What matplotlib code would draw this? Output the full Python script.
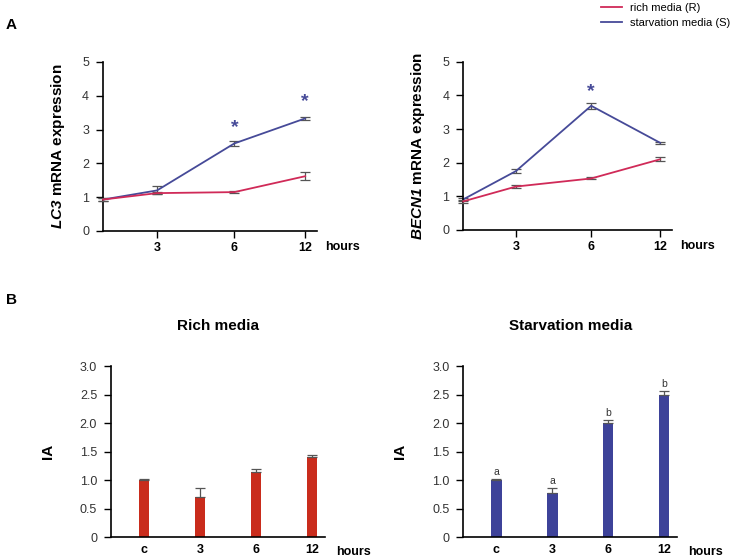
import matplotlib
matplotlib.use('Agg')
import matplotlib.pyplot as plt
from matplotlib.lines import Line2D
import numpy as np

plt.rcParams['font.family'] = ['Liberation Sans', 'DejaVu Sans']
plt.rcParams['mathtext.fontset'] = 'custom'
plt.rcParams['mathtext.rm'] = 'Liberation Sans'
plt.rcParams['mathtext.it'] = 'Liberation Sans:italic'
plt.rcParams['mathtext.bf'] = 'Liberation Sans:bold'
plt.rcParams['mathtext.bfit'] = 'Liberation Sans:italic:bold'

# ---- data ----
# panel A: qPCR time course (hours 0, 3, 6, 12)
time_pos = [0, 1, 2.43, 3.74]
time_labels = ['', '3', '6', '12']

lc3_rich = [0.93, 1.12, 1.15, 1.62]
lc3_rich_err = [0.05, 0.04, 0.04, 0.12]
lc3_starv = [0.93, 1.20, 2.59, 3.33]
lc3_starv_err = [0.05, 0.12, 0.07, 0.04]
lc3_stars = [(2.43, 3.06), (3.74, 3.83)]

becn_rich = [0.85, 1.29, 1.53, 2.10]
becn_rich_err = [0.04, 0.04, 0.03, 0.06]
becn_starv = [0.91, 1.75, 3.69, 2.59]
becn_starv_err = [0.05, 0.05, 0.09, 0.03]
becn_stars = [(2.43, 4.10)]

# panel B: IA bar charts
bar_labels = ['c', '3', '6', '12']
ia_rich = [1.00, 0.71, 1.15, 1.41]
ia_rich_err = [0.02, 0.15, 0.04, 0.03]
ia_starv = [1.00, 0.78, 2.00, 2.50]
ia_starv_err = [0.03, 0.09, 0.05, 0.06]
ia_starv_letters = ['a', 'a', 'b', 'b']

RED = '#d02a58'
BLUE = '#464a98'
BAR_RED = '#c92c1c'
BAR_BLUE = '#3d4299'
ERR = '#555555'

fig = plt.figure(figsize=(7.31, 5.59), dpi=100)


def style_axes(ax, xpad):
    ax.spines['top'].set_visible(False)
    ax.spines['right'].set_visible(False)
    ax.spines['left'].set_linewidth(1.2)
    ax.spines['bottom'].set_linewidth(1.2)
    ax.tick_params(axis='y', direction='out', length=5, width=1.0,
                   labelsize=9, colors='black', labelcolor='#333333', pad=5)
    ax.tick_params(axis='x', direction='out', width=1.0,
                   labelsize=9, pad=xpad)
    for lab in ax.get_xticklabels():
        lab.set_fontweight('bold')


def line_panel(rect, rich, rich_err, starv, starv_err, stars, ylabel):
    ax = fig.add_axes(rect)
    ax.errorbar(time_pos, rich, yerr=rich_err, color=RED, lw=1.3,
                ecolor=ERR, elinewidth=0.9, capsize=3.5, capthick=0.9,
                clip_on=False, zorder=3)
    ax.errorbar(time_pos, starv, yerr=starv_err, color=BLUE, lw=1.3,
                ecolor=ERR, elinewidth=0.9, capsize=3.5, capthick=0.9,
                clip_on=False, zorder=2)
    for x, y in stars:
        ax.text(x, y, '*', color=BLUE, fontsize=14, fontweight='bold',
                ha='center', va='center')
    ax.set_xlim(0, 3.96)
    ax.set_ylim(0, 5)
    ax.set_yticks([0, 1, 2, 3, 4, 5])
    ax.set_xticks(time_pos[1:])
    ax.set_xticklabels(time_labels[1:])
    ax.set_ylabel(ylabel, fontsize=11, fontweight='bold', labelpad=11)
    ax.tick_params(axis='x', length=5)
    style_axes(ax, 3)
    ax.text(1.04, -0.095, 'hours', transform=ax.transAxes, fontsize=9,
            fontweight='bold', ha='left', va='center')
    return ax


def bar_panel(rect, vals, errs, color, title, letters=None):
    ax = fig.add_axes(rect)
    x = np.arange(len(bar_labels))
    ax.bar(x, vals, width=0.19, color=color, edgecolor='none', zorder=2)
    ax.errorbar(x, vals, yerr=[np.zeros(len(errs)), errs], fmt='none',
                ecolor=ERR, elinewidth=0.9, capsize=3.5, capthick=0.9,
                zorder=3)
    if letters:
        for xi, v, e, t in zip(x, vals, errs, letters):
            ax.text(xi, v + e + 0.12, t, fontsize=7.5, color='#333333',
                    ha='center', va='center')
    ax.set_xlim(-0.59, 3.23)
    ax.set_ylim(0, 3.0)
    ax.set_yticks([0, 0.5, 1.0, 1.5, 2.0, 2.5, 3.0])
    ax.set_yticklabels(['0', '0.5', '1.0', '1.5', '2.0', '2.5', '3.0'])
    ax.set_xticks(x)
    ax.set_xticklabels(bar_labels)
    ax.set_ylabel('IA', fontsize=11, fontweight='bold', labelpad=18)
    ax.set_title(title, fontsize=11, fontweight='bold', pad=26)
    ax.tick_params(axis='x', length=0)
    style_axes(ax, 5)
    ax.text(1.05, -0.085, 'hours', transform=ax.transAxes, fontsize=9,
            fontweight='bold', ha='left', va='center')
    return ax


line_panel([0.1409, 0.5868, 0.2928, 0.3023],
           lc3_rich, lc3_rich_err, lc3_starv, lc3_starv_err,
           lc3_stars, r'$\bfit{LC3}$ mRNA expression')
line_panel([0.6338, 0.5886, 0.2851, 0.3010],
           becn_rich, becn_rich_err, becn_starv, becn_starv_err,
           becn_stars, r'$\bfit{BECN1}$ mRNA expression')

bar_panel([0.1518, 0.0388, 0.2928, 0.3064], ia_rich, ia_rich_err,
          BAR_RED, 'Rich media')
bar_panel([0.6338, 0.0388, 0.2923, 0.3064], ia_starv, ia_starv_err,
          BAR_BLUE, 'Starvation media', ia_starv_letters)

# legend (lines only)
handles = [Line2D([], [], color=RED, lw=1.3), Line2D([], [], color=BLUE, lw=1.3)]
fig.legend(handles, ['rich media (R)', 'starvation media (S)'],
           loc='upper right', bbox_to_anchor=(1.012, 1.012), frameon=False,
           fontsize=8, handlelength=1.9, handletextpad=0.7, labelspacing=0.45)

fig.text(0.008, 0.955, 'A', fontsize=11, fontweight='bold', va='center')
fig.text(0.008, 0.463, 'B', fontsize=11, fontweight='bold', va='center')

fig.savefig('out.png', dpi=100)
